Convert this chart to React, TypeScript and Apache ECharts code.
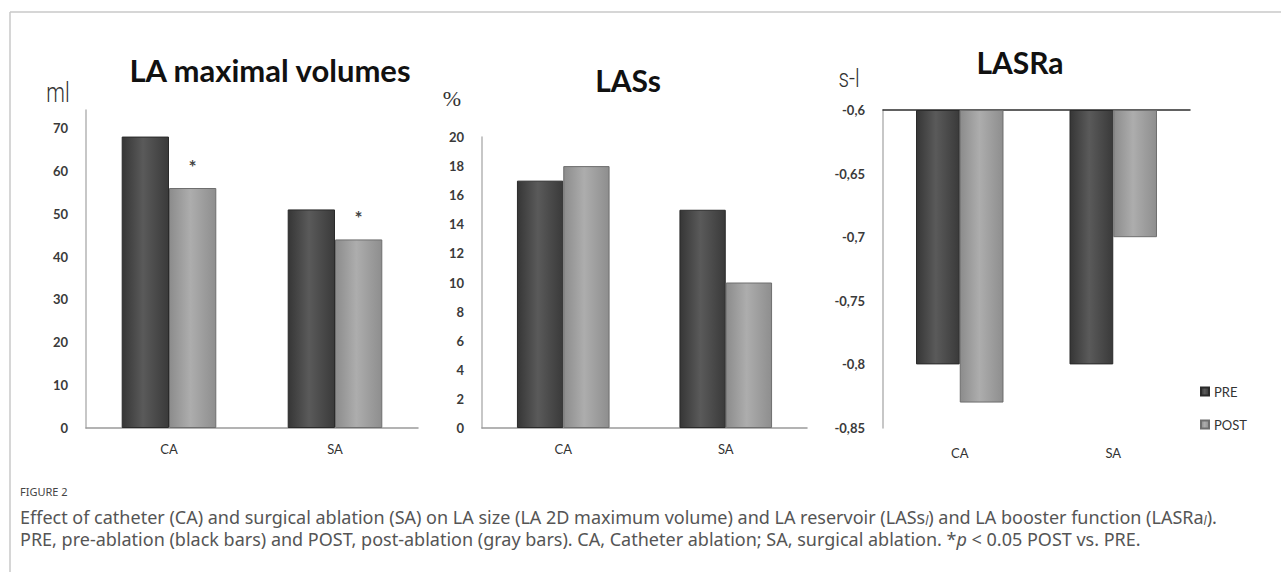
import React, { useEffect, useRef } from "react";
import * as echarts from "echarts";

// ---------- data ----------
const categories = ["CA", "SA"];
const seriesNames = ["PRE", "POST"];
const panelTitles = ["LA maximal volumes", "LASs", "LASRa"];
const unitLabels = ["ml", "%", "s-l"];

const volPre = [68, 51];
const volPost = [56, 44];
const volSig = ["*", "*"];
const volTicks = [0, 10, 20, 30, 40, 50, 60, 70];

const lassPre = [17, 15];
const lassPost = [18, 10];
const lassTicks = [0, 2, 4, 6, 8, 10, 12, 14, 16, 18, 20];

const lasraPre = [-0.8, -0.8];
const lasraPost = [-0.83, -0.7];
const lasraTicks = [-0.85, -0.8, -0.75, -0.7, -0.65, -0.6];

const captionHeading = "FIGURE 2";
const captionLine1 =
  "Effect of catheter (CA) and surgical ablation (SA) on LA size (LA 2D maximum volume) and LA reservoir (LASs{sub|l}) and LA booster function (LASRa{sub|l}).";
const captionLine2 =
  "PRE, pre-ablation (black bars) and POST, post-ablation (gray bars). CA, Catheter ablation; SA, surgical ablation. *{it|p} < 0.05 POST vs. PRE.";

// ---------- styles ----------
const preColor = new echarts.graphic.LinearGradient(0, 0, 1, 0, [
  { offset: 0, color: "#363636" },
  { offset: 0.45, color: "#5a5a5a" },
  { offset: 1, color: "#3a3a3a" },
]);
const postColor = new echarts.graphic.LinearGradient(0, 0, 1, 0, [
  { offset: 0, color: "#8c8c8c" },
  { offset: 0.45, color: "#adadad" },
  { offset: 1, color: "#8e8e8e" },
]);

const tickFont = { fontFamily: "Lato", fontSize: 13, color: "#3a3a3a", fontWeight: "bold" as const };

export default function App() {
  const ref = useRef<HTMLDivElement>(null);

  useEffect(() => {
    if (!ref.current) return;
    const chart = echarts.init(ref.current, undefined, { renderer: "svg" });

    const grids = [
      { left: 86, top: 110, width: 332, height: 318 },
      { left: 482, top: 137, width: 325, height: 291 },
      { left: 883, top: 110, width: 307, height: 318 },
    ];

    const xAxisBase = (gridIndex: number) => ({
      type: "category" as const,
      gridIndex,
      data: categories,
      axisTick: { show: false },
      axisLine: { show: true, lineStyle: { color: "#9a9a9a", width: 1.5 } },
      axisLabel: { fontFamily: "Lato", fontSize: 13, color: "#333", margin: 14 },
    });

    const yAxisBase = (gridIndex: number) => ({
      type: "value" as const,
      gridIndex,
      splitLine: { show: false },
      axisTick: { show: false },
      axisLine: { show: true, lineStyle: { color: "#b5b5b5", width: 1.5 } },
      axisLabel: { ...tickFont, margin: 18 },
    });

    const barCommon = {
      type: "bar" as const,
      barGap: "0%",
      barCategoryGap: "43%",
    };

    const unitStyle = (text: string, size: number) => ({
      text,
      font: `300 ${size}px Roboto`,
      fill: "#333",
      textAlign: "center",
      textVerticalAlign: "middle",
    });

    const option: any = {
      animation: false,
      backgroundColor: "#ffffff",
      grid: grids,
      legend: {
        data: seriesNames,
        orient: "vertical",
        left: 1195,
        top: 380,
        itemWidth: 8,
        itemHeight: 8,
        itemGap: 20,
        icon: "rect",
        textStyle: { fontFamily: "Lato", fontSize: 13, color: "#333" },
      },
      xAxis: [
        xAxisBase(0),
        xAxisBase(1),
        { ...xAxisBase(2), axisLine: { show: false }, axisLabel: { fontFamily: "Lato", fontSize: 13, color: "#333", margin: 18 } },
        {
          type: "category",
          gridIndex: 2,
          position: "top",
          data: categories,
          axisTick: { show: false },
          axisLabel: { show: false },
          axisLine: { show: true, lineStyle: { color: "#2e2e2e", width: 1.5 } },
        },
      ],
      yAxis: [
        {
          ...yAxisBase(0),
          min: 0,
          max: 74.2,
          interval: 10,
          axisLabel: {
            ...tickFont,
            margin: 18,
            formatter: (v: number) => (volTicks.some((k) => Math.abs(k - v) < 1e-6) ? String(v) : ""),
          },
        },
        {
          ...yAxisBase(1),
          min: 0,
          max: 20,
          interval: 2,
          axisLabel: {
            ...tickFont,
            margin: 18,
            formatter: (v: number) => (lassTicks.includes(v) ? String(v) : ""),
          },
        },
        {
          ...yAxisBase(2),
          min: -0.85,
          max: -0.6,
          interval: 0.05,
          startValue: -0.6,
          axisLabel: {
            ...tickFont,
            margin: 18,
            formatter: (v: number) => {
              const t = lasraTicks.find((k) => Math.abs(k - v) < 1e-6);
              if (t === undefined) return "";
              return t.toFixed(2).replace(/0$/, "").replace(".", ",");
            },
          },
        },
      ],
      series: [
        {
          ...barCommon,
          name: seriesNames[0],
          xAxisIndex: 0,
          yAxisIndex: 0,
          data: volPre,
          itemStyle: { color: preColor, borderColor: "#2a2a2a", borderWidth: 1 },
        },
        {
          ...barCommon,
          name: seriesNames[1],
          xAxisIndex: 0,
          yAxisIndex: 0,
          data: volPost,
          itemStyle: { color: postColor, borderColor: "#6e6e6e", borderWidth: 1 },
          label: {
            show: true,
            position: "top",
            distance: 12,
            fontSize: 19,
            fontWeight: "bold",
            fontFamily: "Lato",
            color: "#444",
            formatter: (p: any) => volSig[p.dataIndex],
          },
        },
        {
          ...barCommon,
          name: seriesNames[0],
          xAxisIndex: 1,
          yAxisIndex: 1,
          data: lassPre,
          itemStyle: { color: preColor, borderColor: "#2a2a2a", borderWidth: 1 },
        },
        {
          ...barCommon,
          name: seriesNames[1],
          xAxisIndex: 1,
          yAxisIndex: 1,
          data: lassPost,
          itemStyle: { color: postColor, borderColor: "#6e6e6e", borderWidth: 1 },
        },
        {
          ...barCommon,
          name: seriesNames[0],
          xAxisIndex: 2,
          yAxisIndex: 2,
          data: lasraPre,
          clip: true,
          itemStyle: { color: preColor, borderColor: "#2a2a2a", borderWidth: 1 },
        },
        {
          ...barCommon,
          name: seriesNames[1],
          xAxisIndex: 2,
          yAxisIndex: 2,
          data: lasraPost,
          clip: true,
          itemStyle: { color: postColor, borderColor: "#6e6e6e", borderWidth: 1 },
        },
      ],
      graphic: [
        // frame
        { type: "line", shape: { x1: 10, y1: 12, x2: 1281, y2: 12 }, style: { stroke: "#c8c8c8", lineWidth: 1.5 } },
        { type: "line", shape: { x1: 10, y1: 12, x2: 10, y2: 572 }, style: { stroke: "#c8c8c8", lineWidth: 1.5 } },
        // panel titles
        { type: "text", x: 270, y: 70, style: { text: panelTitles[0], font: "bold 31px Lato", fill: "#111", textAlign: "center", textVerticalAlign: "middle" } },
        { type: "text", x: 628, y: 80, style: { text: panelTitles[1], font: "bold 30px Lato", fill: "#111", textAlign: "center", textVerticalAlign: "middle" } },
        { type: "text", x: 1020, y: 62, style: { text: panelTitles[2], font: "bold 30px Lato", fill: "#111", textAlign: "center", textVerticalAlign: "middle" } },
        // unit labels
        { type: "text", x: 58, y: 92, scaleX: 0.75, style: unitStyle(unitLabels[0], 28) },
        { type: "text", x: 452, y: 98, style: { text: unitLabels[1], font: "22px 'Liberation Serif'", fill: "#333", textAlign: "center", textVerticalAlign: "middle" } },
        { type: "text", x: 849, y: 78, scaleX: 0.8, style: unitStyle(unitLabels[2], 26) },
        // caption
        { type: "text", x: 20, y: 491, style: { text: captionHeading, font: "11px 'Noto Sans'", fill: "#444", textVerticalAlign: "middle" } },
        {
          type: "text",
          x: 20,
          y: 517,
          style: {
            text: captionLine1,
            font: "18px 'Noto Sans'",
            fill: "#555",
            textVerticalAlign: "middle",
            rich: { sub: { fontFamily: "Noto Sans", fontSize: 12, fontStyle: "italic", fill: "#555", padding: [7, 0, 0, 0] } },
          },
        },
        {
          type: "text",
          x: 20,
          y: 539,
          style: {
            text: captionLine2,
            font: "18px 'Noto Sans'",
            fill: "#555",
            textVerticalAlign: "middle",
            rich: { it: { fontFamily: "Noto Sans", fontSize: 18, fontStyle: "italic", fill: "#555" } },
          },
        },
      ],
    };

    chart.setOption(option);
    return () => chart.dispose();
  }, []);

  return (
    <div
      ref={ref}
      style={{ position: "fixed", left: 0, top: 0, width: 1281, height: 572, background: "#fff" }}
    />
  );
}
